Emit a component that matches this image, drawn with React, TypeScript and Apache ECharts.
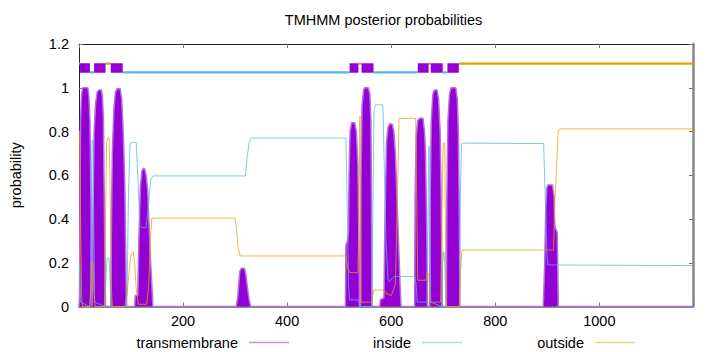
import React, { useEffect, useRef } from "react";
import * as echarts from "echarts";

const TITLE = "TMHMM posterior probabilities";
const Y_NAME = "probability";
const X_MIN = 0;
const X_MAX = 1180;
const SERIES_NAMES = ["transmembrane", "inside", "outside"];

// Posterior probability of transmembrane (drawn as filled impulses)
const tmPoints: [number, number][] = [
  [0, 0], [1, 0.05], [2, 0.5], [3, 0.85], [5, 0.97], [7, 1.0], [17, 1.0], [19, 0.96], [21, 0.85], [23, 0.5], [24, 0.15], [25, 0],
  [26, 0.1], [27, 0.45], [29, 0.8], [32, 0.93], [35, 0.98], [38, 0.99], [43, 0.99], [45, 0.96], [47, 0.85], [48, 0.6], [50, 0.2], [51, 0],
  [61, 0], [62, 0.3], [64, 0.7], [67, 0.9], [70, 0.98], [73, 0.995], [79, 0.995], [82, 0.95], [85, 0.8], [88, 0.55], [90, 0.2], [91, 0],
  [107, 0], [108, 0.05], [113, 0.05], [115, 0.3], [118, 0.55], [121, 0.62], [124, 0.632], [126, 0.63], [129, 0.6], [132, 0.53], [135, 0.35], [137, 0.23], [140, 0.1], [142, 0],
  [302, 0], [305, 0.04], [307, 0.1], [309, 0.16], [312, 0.175], [318, 0.175], [321, 0.14], [324, 0.08], [327, 0.03], [330, 0],
  [512, 0], [513, 0.28], [516, 0.3], [518, 0.35], [519, 0.6], [521, 0.8], [524, 0.84], [530, 0.84], [533, 0.8], [536, 0.65], [538, 0.3], [539, 0],
  [541, 0], [542, 0.6], [544, 0.92], [547, 0.99], [549, 1.0], [556, 1.0], [559, 0.97], [561, 0.85], [562, 0.5], [563, 0],
  [578, 0], [579, 0.03], [586, 0.04], [588, 0.4], [591, 0.75], [594, 0.82], [597, 0.834], [602, 0.834], [605, 0.8], [608, 0.7], [611, 0.5], [614, 0.3], [617, 0.1], [619, 0],
  [645, 0], [646, 0.5], [648, 0.78], [651, 0.85], [655, 0.861], [661, 0.861], [664, 0.8], [666, 0.7], [668, 0.4], [670, 0],
  [674, 0], [675, 0.5], [677, 0.85], [680, 0.97], [683, 0.99], [688, 0.99], [691, 0.95], [694, 0.8], [696, 0.5], [698, 0],
  [706, 0], [707, 0.5], [709, 0.85], [712, 0.97], [715, 1.0], [724, 1.0], [727, 0.95], [729, 0.8], [731, 0.4], [732, 0],
  [892, 0], [893, 0.05], [895, 0.2], [897, 0.45], [899, 0.54], [901, 0.556], [910, 0.556], [913, 0.5], [914, 0.4], [915, 0.36], [919, 0.34], [920, 0.2], [921, 0],
  [1180, 0],
];

// Posterior probability of "inside"
const insidePoints: [number, number][] = [
  [1, 0.2], [3, 0.02], [20, 0], [22, 0.05], [24, 0.5], [25, 0.76], [27, 0.76], [28, 0.5], [30, 0.02],
  [50, 0], [52, 0.15], [54, 0.22], [58, 0.22], [60, 0.1], [62, 0],
  [92, 0], [95, 0.5], [98, 0.74], [100, 0.75], [110, 0.75], [113, 0.6], [117, 0.37], [120, 0.36], [129, 0.36], [133, 0.45], [138, 0.58], [142, 0.597],
  [320, 0.597], [323, 0.68], [327, 0.75], [331, 0.77], [513, 0.77], [516, 0.4], [518, 0.1], [520, 0.03], [538, 0.03], [540, 0],
  [563, 0], [565, 0.5], [567, 0.9], [570, 0.922], [584, 0.922], [587, 0.6], [590, 0.3], [594, 0.12], [597, 0.113], [602, 0.13], [606, 0.137],
  [645, 0.137], [648, 0.1], [650, 0.02], [669, 0.02], [671, 0.4], [672, 0.73], [674, 0.73], [675, 0.3], [676, 0.02],
  [697, 0], [699, 0.2], [701, 0.25], [703, 0.2], [705, 0],
  [731, 0], [733, 0.5], [735, 0.745], [737, 0.747], [893, 0.745], [896, 0.5], [899, 0.25], [901, 0.19], [1180, 0.187],
];

// Posterior probability of "outside"
const outsidePoints: [number, number][] = [
  [1, 0.8], [3, 0.4], [5, 0.05], [7, 0], [21, 0], [23, 0.1], [25, 0.2], [27, 0.2], [29, 0.05], [31, 0],
  [49, 0], [51, 0.4], [53, 0.75], [55, 0.77], [58, 0.77], [60, 0.5], [62, 0.1], [64, 0],
  [88, 0], [92, 0.05], [96, 0.15], [100, 0.24], [104, 0.25], [107, 0.2], [110, 0.08], [114, 0.01], [130, 0.01], [134, 0.1], [137, 0.3], [140, 0.404],
  [300, 0.404], [303, 0.35], [306, 0.26], [310, 0.231], [513, 0.231], [516, 0.18], [520, 0.155], [536, 0.155], [538, 0.4], [540, 0.87], [541, 0.5], [542, 0.02],
  [563, 0.02], [566, 0.075], [586, 0.075], [590, 0.06], [600, 0.05], [608, 0.1], [612, 0.5], [615, 0.86],
  [647, 0.86], [649, 0.5], [651, 0.12], [667, 0.12], [669, 0.16], [672, 0.15], [675, 0.02],
  [695, 0.02], [698, 0.5], [700, 0.747], [703, 0.747], [705, 0.1], [706, 0],
  [731, 0], [733, 0.15], [736, 0.258], [912, 0.258], [914, 0.45], [917, 0.6], [921, 0.8], [924, 0.812], [1180, 0.812],
];

// Predicted topology (top bar)
const tmSegments: [number, number][] = [
  [2, 21], [29, 51], [61, 84], [520, 537], [543, 566], [651, 672], [676, 699], [708, 730],
];
const insideSegments: [number, number][] = [
  [21, 29], [84, 520], [566, 651], [699, 708],
];
const outsideSegments: [number, number][] = [
  [0, 2], [51, 61], [537, 543], [672, 676], [730, 1180],
];

const FONT = "'Liberation Sans', Arial, Helvetica, sans-serif";
const FS = 14.5;
const C_TM = "#9400D3";
const C_IN = "#56B4E9";
const C_OUT = "#E69F00";

function segSeries(name: string, segs: [number, number][], lo: number, hi: number, color: string, z: number) {
  return {
    type: "custom",
    name,
    xAxisIndex: 0,
    yAxisIndex: 0,
    z,
    silent: true,
    clip: true,
    encode: { x: [0, 1], y: [2, 3] },
    data: segs.map(([s, e]) => [s, e, lo, hi]),
    renderItem: (params: any, api: any) => {
      const p1 = api.coord([api.value(0), api.value(3)]);
      const p2 = api.coord([api.value(1), api.value(2)]);
      return {
        type: "rect",
        shape: { x: p1[0], y: p1[1], width: p2[0] - p1[0], height: p2[1] - p1[1] },
        style: { fill: color },
      };
    },
  };
}

export default function App() {
  const ref = useRef<HTMLDivElement>(null);
  useEffect(() => {
    const chart = echarts.init(ref.current!, null, { renderer: "svg" });
    const ctx = document.createElement("canvas").getContext("2d")!;
    ctx.font = `${FS}px ${FONT}`;
    const titleW = ctx.measureText(TITLE).width;
    const plotLeft = 74;
    const plotRight = 693;
    const textW = (s: string) => ctx.measureText(s).width;

    const legendRightEdges = [238, 411, 584];
    const legendColors = ["#c490e8", "#b0dcf0", "#f5d08a"];

    const axisText = { color: "#000", fontSize: FS, fontFamily: FONT };

    const option: any = {
      animation: false,
      backgroundColor: "#fff",
      title: {
        text: TITLE,
        left: (plotLeft + plotRight) / 2 - titleW / 2,
        top: 12,
        padding: 0,
        textStyle: { ...axisText, fontWeight: "normal" },
      },
      grid: { left: plotLeft, top: 44, width: plotRight - plotLeft, height: 262.5, containLabel: false },
      legend: SERIES_NAMES.map((n, i) => ({
        data: [{ name: n, itemStyle: { color: legendColors[i] } }],
        left: legendRightEdges[i] - textW(n),
        top: 335,
        align: "right",
        icon: "rect",
        itemWidth: 40,
        itemHeight: 1.5,
        padding: 0,
        selectedMode: false,
        textStyle: { ...axisText, padding: [0, 6, 0, 0] },
      })),
      xAxis: [
        {
          type: "value",
          min: X_MIN,
          max: X_MAX,
          interval: 200,
          position: "bottom",
          axisLine: { show: true, onZero: false, lineStyle: { color: "#888", width: 2 } },
          axisTick: { show: true, inside: true, length: 4, lineStyle: { color: "#777" } },
          axisLabel: {
            ...axisText,
            margin: 7,
            formatter: (v: number) => (v !== 0 && v % 200 === 0 ? String(v) : ""),
          },
          splitLine: { show: false },
        },
        {
          type: "value",
          min: X_MIN,
          max: X_MAX,
          interval: 200,
          position: "top",
          axisLine: { show: true, onZero: false, lineStyle: { color: "#222", width: 1 } },
          axisTick: { show: true, inside: true, length: 4, lineStyle: { color: "#777" } },
          axisLabel: { show: false },
          splitLine: { show: false },
        },
      ],
      yAxis: [
        {
          type: "value",
          min: 0,
          max: 1.2,
          interval: 0.2,
          position: "left",
          name: Y_NAME,
          nameLocation: "middle",
          nameGap: 56,
          nameRotate: 90,
          nameTextStyle: axisText,
          axisLine: { show: true, onZero: false, lineStyle: { color: "#222", width: 1 } },
          axisTick: { show: true, inside: true, length: 4, lineStyle: { color: "#777" } },
          axisLabel: { ...axisText, margin: 10, formatter: (v: number) => String(Math.round(v * 10) / 10) },
          splitLine: { show: false },
        },
        {
          type: "value",
          min: 0,
          max: 1.2,
          interval: 0.2,
          position: "right",
          axisLine: { show: true, onZero: false, lineStyle: { color: "#888", width: 2.5 } },
          axisTick: { show: true, inside: true, length: 4, lineStyle: { color: "#777" } },
          axisLabel: { show: false },
          splitLine: { show: false },
        },
      ],
      series: [
        {
          name: SERIES_NAMES[0],
          type: "line",
          data: tmPoints,
          showSymbol: false,
          symbol: "none",
          z: 2,
          color: C_TM,
          lineStyle: { color: "#b46ee2", width: 1.5 },
          areaStyle: { color: C_TM, opacity: 1 },
        },
        {
          name: SERIES_NAMES[1],
          type: "line",
          data: insidePoints,
          showSymbol: false,
          symbol: "none",
          z: 3,
          color: C_IN,
          lineStyle: { color: C_IN, width: 1, opacity: 0.75 },
        },
        {
          name: SERIES_NAMES[2],
          type: "line",
          data: outsidePoints,
          showSymbol: false,
          symbol: "none",
          z: 4,
          color: C_OUT,
          lineStyle: { color: C_OUT, width: 1, opacity: 0.75 },
        },
        segSeries("topInside", insideSegments, 1.065, 1.076, C_IN, 5),
        segSeries("topOutside", outsideSegments, 1.105, 1.116, C_OUT, 5),
        segSeries("topTM", tmSegments, 1.069, 1.112, C_TM, 6),
      ],
    };
    chart.setOption(option);
    return () => chart.dispose();
  }, []);
  return <div ref={ref} style={{ position: "fixed", left: 0, top: 0, width: 720, height: 352 }} />;
}
